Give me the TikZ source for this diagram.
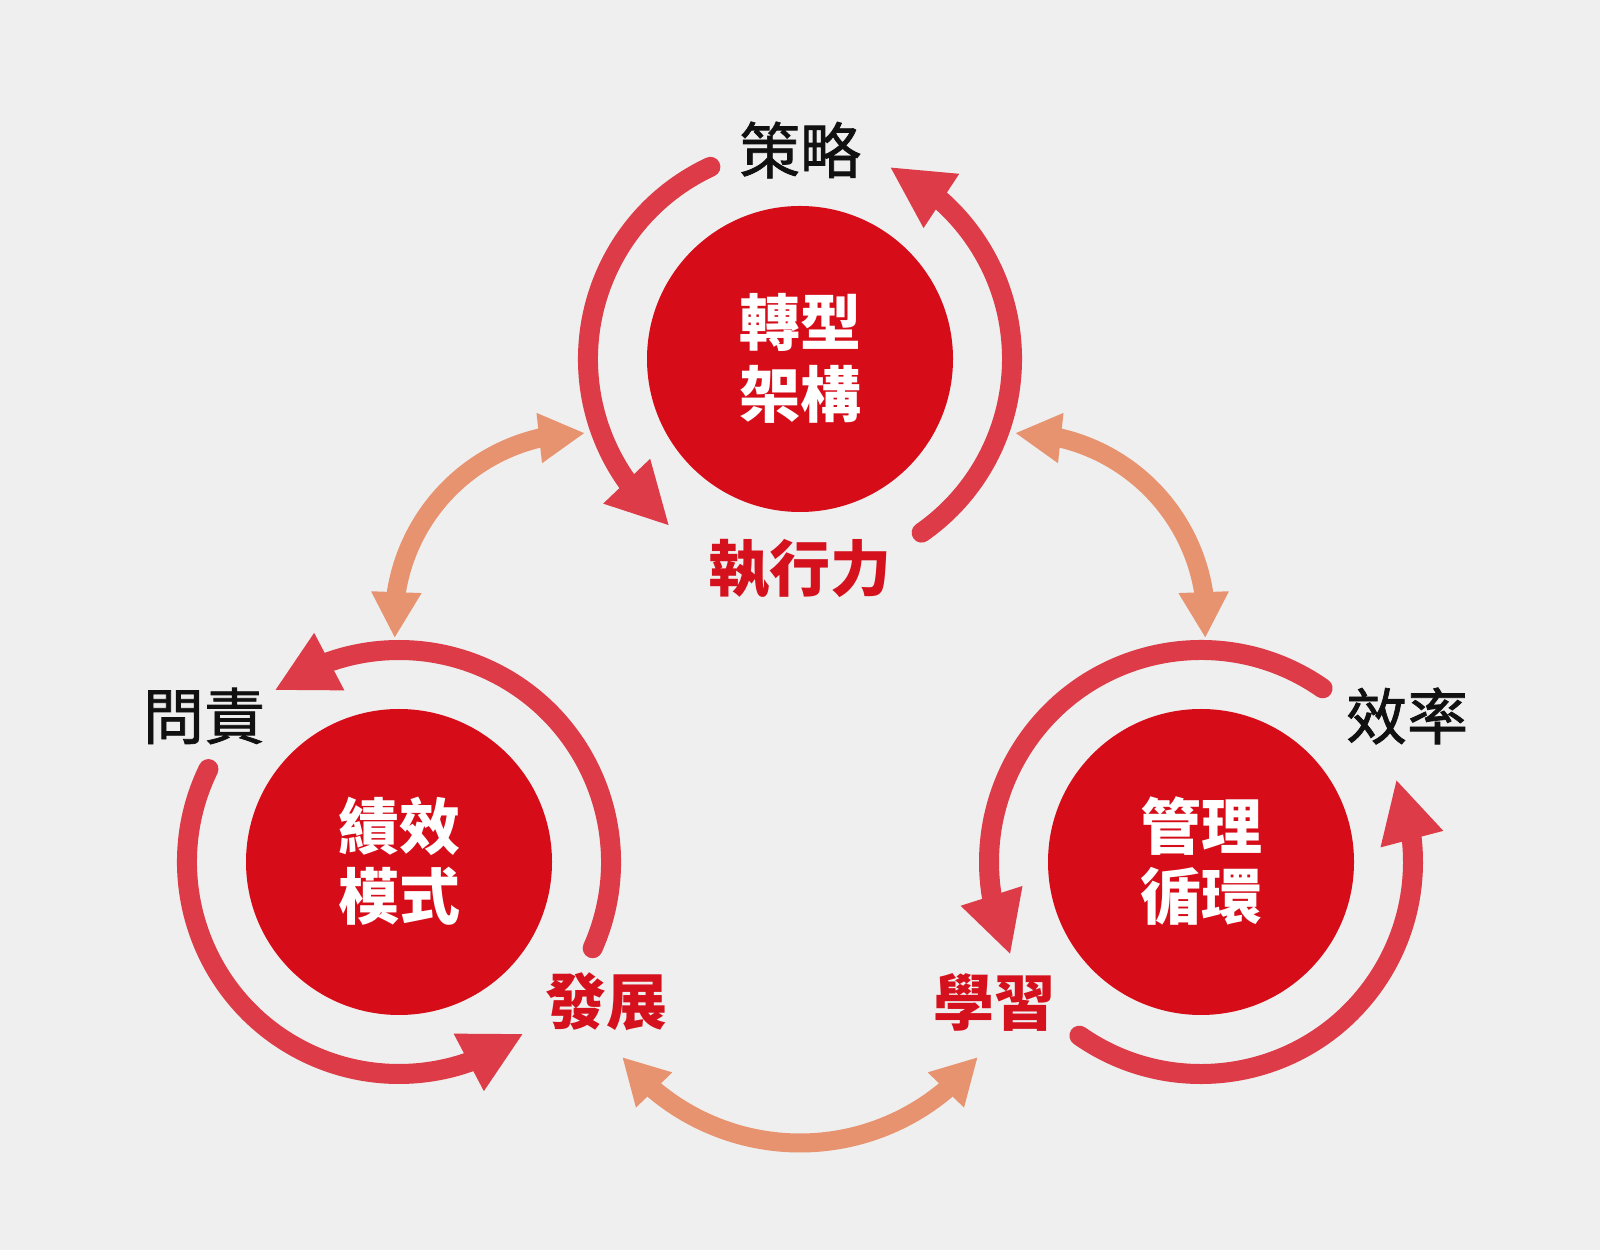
\documentclass[tikz,border=0pt]{standalone}
\usepackage{fontspec}
\newfontfamily\cjk{Noto Sans CJK TC}
\newfontfamily\cjkmed[FakeBold=1.2]{Noto Sans CJK TC}
\usetikzlibrary{arrows.meta,bending}
\definecolor{bg}{HTML}{EFEFEF}
\definecolor{circ}{HTML}{D60C18}
\definecolor{ring}{HTML}{DC3B47}
\definecolor{orng}{HTML}{E8936F}
\definecolor{redtxt}{HTML}{D4111D}
\definecolor{blk}{HTML}{111111}
\tikzset{
  hub/.style={circle, fill=circ, minimum size=306pt, inner sep=0pt},
  whitetxt/.style={text=white, font=\cjk\bfseries\fontsize{61}{70}\selectfont, inner sep=0pt},
  redlbl/.style={text=redtxt, font=\cjk\bfseries\fontsize{61}{70}\selectfont, inner sep=0pt},
  blklbl/.style={text=blk, font=\cjkmed\fontsize{61}{70}\selectfont, inner sep=0pt},
  ringarc/.style={draw=ring, line width=20pt, line cap=round, -{Triangle[length=62pt,width=60pt]}},
  linkarc/.style={draw=orng, line width=19pt, {Triangle[length=46pt,width=47pt]}-{Triangle[length=46pt,width=47pt]}}
}
\begin{document}
\begin{tikzpicture}[x=1pt,y=1pt]
\fill[bg] (0,0) rectangle (1600,1250);
\useasboundingbox (0,0) rectangle (1600,1250);

% hubs
\node[hub] (t) at (800,891) {};
\node[hub] (l) at (399,388) {};
\node[hub] (r) at (1201,388) {};

\node[whitetxt] (t1) at (800,928) {轉型};
\node[whitetxt] (t2) at (800,856) {架構};
\node[whitetxt] (l1) at (399,424) {績效};
\node[whitetxt] (l2) at (399,354) {模式};
\node[whitetxt] (r1) at (1201,424) {管理};
\node[whitetxt] (r2) at (1201,354) {循環};

% labels
\node[blklbl] (s) at (800,1100) {策略};
\node[redlbl] (e) at (800,681) {執行力};
\node[blklbl] (a) at (204,534) {問責};
\node[redlbl] (d) at (606,248) {發展};
\node[blklbl] (f) at (1407,534) {效率};
\node[redlbl] (x) at (994,248) {學習};

% ring arcs
\path[ringarc] (t.center) ++(115:212) arc[start angle=115, end angle=232, radius=212];
\path[ringarc] (t.center) ++(-55:212) arc[start angle=-55, end angle=65, radius=212];
\path[ringarc] (l.center) ++(-24:212) arc[start angle=-24, end angle=126, radius=212];
\path[ringarc] (l.center) ++(154:212) arc[start angle=154, end angle=306, radius=212];
\path[ringarc] (r.center) ++(55:212) arc[start angle=55, end angle=206, radius=212];
\path[ringarc] (r.center) ++(235:212) arc[start angle=235, end angle=383, radius=212];

% link arcs
\coordinate (ctl) at (583,628);
\coordinate (ctr) at (1017,628);
\coordinate (cb) at (800,334);
\path[linkarc] (ctl) ++(89.4:189) arc[start angle=89.4, end angle=184.9, radius=189];
\path[linkarc] (ctr) ++(90.6:189) arc[start angle=90.6, end angle=-4.9, radius=189];
\path[linkarc] (cb) ++(218.4:227) arc[start angle=218.4, end angle=321.6, radius=227];
\end{tikzpicture}
\end{document}
